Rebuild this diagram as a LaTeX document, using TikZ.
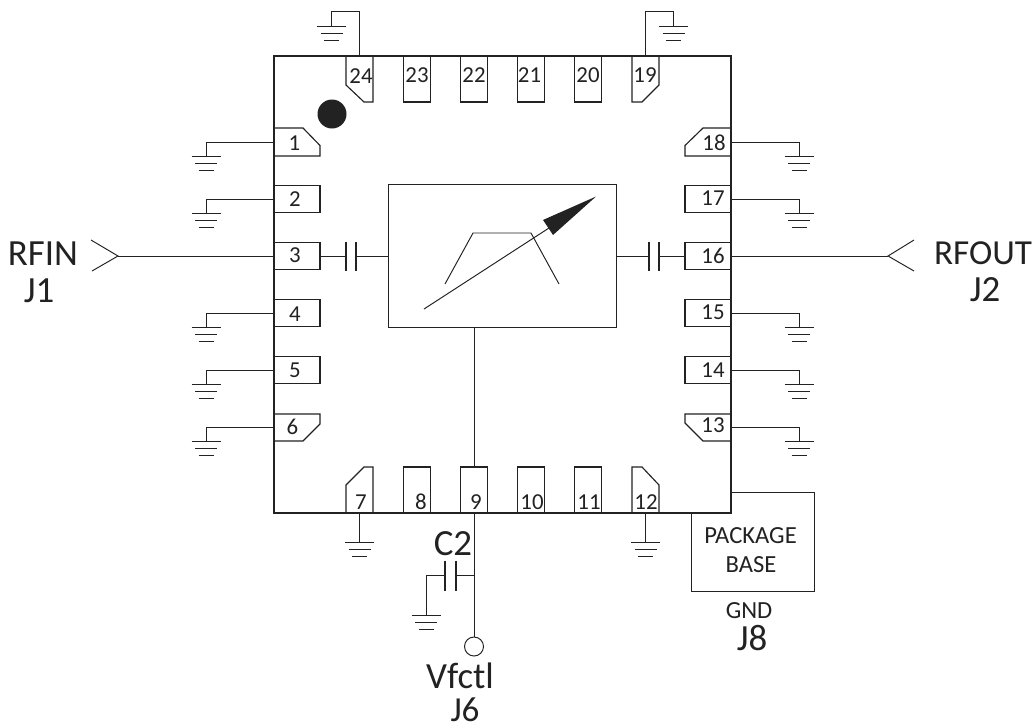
\documentclass[tikz,border=0pt]{standalone}
\usepackage{fontspec}
\setmainfont{Carlito}
\definecolor{ink}{HTML}{222222}
\tikzset{
  wire/.style={ink,line width=.55pt},
  outline/.style={ink,line width=.85pt},
  pinh/.style={ink,line width=.65pt,minimum width=.92cm,minimum height=.54cm,inner sep=0pt,outer sep=0pt},
  pinv/.style={ink,line width=.65pt,minimum width=.54cm,minimum height=.92cm,inner sep=0pt,outer sep=0pt},
  num/.style={ink,font=\fontsize{13}{13}\selectfont,inner sep=0pt},
  big/.style={ink,font=\fontsize{21}{21}\selectfont,inner sep=0pt},
  small/.style={ink,font=\fontsize{14}{14}\selectfont,inner sep=0pt},
  gnd/.pic={
    \draw[wire,line width=.7pt] (-14.5,0) -- (14.5,0);
    \draw[wire,line width=.7pt] (-11,7) -- (11,7);
    \draw[wire,line width=.7pt] (-7.5,14) -- (7.5,14);
  }
}
\begin{document}
\begin{tikzpicture}[x=.02cm,y=-.02cm]
  \useasboundingbox (0,0) rectangle (1033,727);
  % package body
  \node[outline,draw,minimum width=9.14cm,minimum height=9.14cm,outer sep=0pt] (pkg) at (502.5,284.5) {};
  \draw[wire] (731,492) -- (814,492) -- (814,591) -- (691,591) -- (691,513);
  \node[small] (base1) at (750.5,536) {PACKAGE};
  \node[small] (base2) at (751,565) {BASE};
  \node[small] (gndtxt) at (749,611) {GND};
  \node[big] (j8) at (752,638) {J8};
  \fill[ink] (332,114) circle (14.5);

  % left pins
  \node[pinh] (p1) at (297,142) {};
  \draw[pinh] (274,128) -- (303,128) -- (320,145.5) -- (320,156) -- (274,156);
  \node[pinh,draw] (p2) at (297,199) {};
  \node[pinh,draw] (p3) at (297,256) {};
  \node[pinh,draw] (p4) at (297,313) {};
  \node[pinh,draw] (p5) at (297,370) {};
  \node[pinh] (p6) at (297,427.5) {};
  \draw[pinh] (274,414) -- (320,414) -- (320,424) -- (303,441) -- (274,441);
  \node[num] (n1) at (294.5,143.5) {1};
  \node[num] (n2) at (295,199) {2};
  \node[num] (n3) at (295,255) {3};
  \node[num] (n4) at (295,314) {4};
  \node[num] (n5) at (295,370) {5};
  \node[num] (n6) at (292.5,427) {6};

  % right pins
  \node[pinh] (p18) at (708,142) {};
  \draw[pinh] (731,128) -- (703,128) -- (685,145.5) -- (685,156) -- (731,156);
  \node[pinh,draw] (p17) at (708,199) {};
  \node[pinh,draw] (p16) at (708,256) {};
  \node[pinh,draw] (p15) at (708,313) {};
  \node[pinh,draw] (p14) at (708,370) {};
  \node[pinh] (p13) at (708,427.5) {};
  \draw[pinh] (731,414) -- (685,414) -- (685,423) -- (703,441) -- (731,441);
  \node[num] (n18) at (714,142.5) {18};
  \node[num] (n17) at (713,198) {17};
  \node[num] (n16) at (713,255.5) {16};
  \node[num] (n15) at (713,312) {15};
  \node[num] (n14) at (713,370) {14};
  \node[num] (n13) at (713,425) {13};

  % top pins
  \node[pinv] (p24) at (359.5,79) {};
  \draw[pinv] (346,56) -- (346,85) -- (364,102) -- (373,102) -- (373,56);
  \node[pinv,draw] (p23) at (417,79) {};
  \node[pinv,draw] (p22) at (474,79) {};
  \node[pinv,draw] (p21) at (531,79) {};
  \node[pinv,draw] (p20) at (588,79) {};
  \node[pinv] (p19) at (645.5,79) {};
  \draw[pinv] (632,56) -- (632,102) -- (642,102) -- (659,85) -- (659,56);
  \node[num] (n24) at (361,76) {24};
  \node[num] (n23) at (417,75) {23};
  \node[num] (n22) at (474,75) {22};
  \node[num] (n21) at (529.5,75) {21};
  \node[num] (n20) at (588,75) {20};
  \node[num] (n19) at (645,75) {19};

  % bottom pins
  \node[pinv] (p7) at (359.5,490) {};
  \draw[pinv] (346,513) -- (346,485) -- (364,467) -- (373,467) -- (373,513);
  \node[pinv,draw] (p8) at (417,490) {};
  \node[pinv,draw] (p9) at (474,490) {};
  \node[pinv,draw] (p10) at (531,490) {};
  \node[pinv,draw] (p11) at (588,490) {};
  \node[pinv] (p12) at (645.5,490) {};
  \draw[pinv] (632,513) -- (632,467) -- (642,467) -- (659,485) -- (659,513);
  \node[num] (n7) at (361,502) {7};
  \node[num] (n8) at (421,502) {8};
  \node[num] (n9) at (476,502) {9};
  \node[num] (n10) at (532,502) {10};
  \node[num] (n11) at (589,502) {11};
  \node[num] (n12) at (646,502) {12};

  % grounds
  \coordinate (g1) at (206,156.5);
  \coordinate (g2) at (206,213.5);
  \coordinate (g4) at (206,327.5);
  \coordinate (g5) at (206,384.5);
  \coordinate (g6) at (206,441.5);
  \coordinate (g18) at (799,156.5);
  \coordinate (g17) at (799,213.5);
  \coordinate (g15) at (799,327.5);
  \coordinate (g14) at (799,384.5);
  \coordinate (g13) at (799,441.5);
  \coordinate (g24) at (331.5,26.5);
  \coordinate (g19) at (673.5,26.5);
  \coordinate (g7) at (359.5,542.5);
  \coordinate (g12) at (645.5,542.5);
  \coordinate (gc) at (426,615.5);
  \draw[wire] (p1.west) -| (g1);
  \draw[wire] (p2.west) -| (g2);
  \draw[wire] (p4.west) -| (g4);
  \draw[wire] (p5.west) -| (g5);
  \draw[wire] (p6.west) -| (g6);
  \draw[wire] (p18.east) -| (g18);
  \draw[wire] (p17.east) -| (g17);
  \draw[wire] (p15.east) -| (g15);
  \draw[wire] (p14.east) -| (g14);
  \draw[wire] (p13.east) -| (g13);
  \draw[wire] (p24.north) -- (359.5,11.5) -| (g24);
  \draw[wire] (p19.north) -- (645.5,11.5) -| (g19);
  \draw[wire] (p7.south) -- (g7);
  \draw[wire] (p12.south) -- (g12);
  \pic at (g1) {gnd};
  \pic at (g2) {gnd};
  \pic at (g4) {gnd};
  \pic at (g5) {gnd};
  \pic at (g6) {gnd};
  \pic at (g18) {gnd};
  \pic at (g17) {gnd};
  \pic at (g15) {gnd};
  \pic at (g14) {gnd};
  \pic at (g13) {gnd};
  \pic at (g24) {gnd};
  \pic at (g19) {gnd};
  \pic at (g7) {gnd};
  \pic at (g12) {gnd};
  \pic at (gc) {gnd};

  % inner block
  \node[outline,draw,line width=.8pt,minimum width=4.57cm,minimum height=2.87cm] (bx) at (502.5,256) {};
  \draw[wire] (445,284) -- (473,233) -- (531,233) -- (559,284);
  \draw[wire] (424,309) -- (549,228);
  \fill[ink] (596,196.5) -- (543,220) -- (553,235) -- cycle;

  % rf in and out
  \coordinate (rfin) at (118,256);
  \coordinate (rfout) at (888,256);
  \draw[wire] (91,240) -- (rfin) -- (92,271);
  \draw[wire] (914,240) -- (rfout) -- (914,271);
  \draw[wire] (rfin) -- (p3.west);
  \draw[wire] (rfout) -- (p16.east);
  \node[big] (rfintxt) at (43,254) {RFIN};
  \node[big] (j1) at (39,291) {J1};
  \node[big,font=\fontsize{20}{20}\selectfont] (rfouttxt) at (983,253) {RFOUT};
  \node[big] (j2) at (985,290) {J2};

  % coupling caps
  \coordinate (ca1) at (346,256);
  \coordinate (ca2) at (356,256);
  \coordinate (cb1) at (649,256);
  \coordinate (cb2) at (659,256);
  \draw[wire] (p3.east) -- (ca1);
  \draw[wire] (ca2) -- (bx.west);
  \draw[wire] (bx.east) -- (cb1);
  \draw[wire] (cb2) -- (p16.west);
  \draw[outline] (346,242) -- (346,271);
  \draw[outline] (356,242) -- (356,271);
  \draw[outline] (649,242) -- (649,271);
  \draw[outline] (659,242) -- (659,271);

  % control line
  \node[draw,wire,circle,minimum size=.38cm,inner sep=0pt,outer sep=0pt] (j6c) at (474,646.5) {};
  \coordinate (ct) at (474,575);
  \coordinate (cc1) at (456,575);
  \coordinate (cc2) at (445,575);
  \draw[wire] (bx.south -| p9.north) -- (p9.north);
  \draw[wire] (p9.south) -- (j6c.north);
  \draw[wire] (ct) -- (cc1);
  \draw[wire] (cc2) -| (gc);
  \draw[outline] (445,560.5) -- (445,590.5);
  \draw[outline] (456,560.5) -- (456,590.5);
  \node[big] (c2) at (453,544) {C2};
  \node[big] (vf) at (460,676) {Vfctl};
  \node[big,font=\fontsize{20}{20}\selectfont] (j6) at (465,710) {J6};
\end{tikzpicture}
\end{document}
